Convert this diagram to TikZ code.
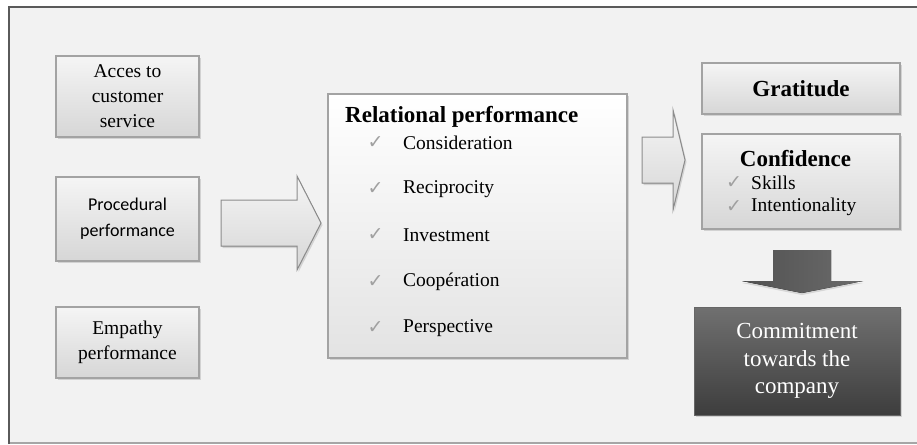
\documentclass[tikz,border=0pt]{standalone}
\usepackage{fontspec}
\setmainfont{Liberation Serif}
\newfontfamily\calfont{Carlito}
\newfontfamily\symfont{DejaVu Sans}
\usetikzlibrary{shadows}
\definecolor{panelbg}{HTML}{F2F2F2}
\definecolor{framedark}{HTML}{5A5A5A}
\definecolor{framelight}{HTML}{A6A6A6}
\definecolor{boxedge}{HTML}{A3A3A3}
\definecolor{checkgray}{HTML}{A0A0A0}
\tikzset{
  softshadow/.style={drop shadow={shadow xshift=1.5pt, shadow yshift=-2pt, opacity=.25, fill=black!55}},
  lightbox/.style={rectangle, draw=boxedge, line width=1.1pt, top color=white!96!black, bottom color=white!84!black,
    inner sep=0pt, align=center, softshadow},
  relbox/.style={rectangle, draw=boxedge, line width=2.8pt, top color=white, bottom color=white!89!black,
    inner sep=0pt, softshadow},
  darkbox/.style={rectangle, draw=black!60, line width=.8pt, top color=black!56, bottom color=black!76,
    inner sep=0pt, align=center, text=white, softshadow},
  blockarrow/.style={draw=black!45, line width=1pt, line join=miter, top color=white!96!black,
    bottom color=white!84!black, softshadow},
  darkarrow/.style={left color=black!68, right color=black!58, draw=none,
    drop shadow={shadow xshift=0pt, shadow yshift=-2pt, opacity=.2, fill=black!60}},
  serif19/.style={font=\fontsize{19.5}{25}\selectfont},
  sans18/.style={font=\calfont\fontsize{18}{26}\selectfont},
  boldhead/.style={font=\bfseries\fontsize{23}{27}\selectfont},
  itemtext/.style={font=\fontsize{19.5}{24}\selectfont, anchor=west, inner sep=0pt},
  tick/.style={font=\symfont\fontsize{19}{21}\selectfont, text=checkgray, inner sep=0pt},
}
\begin{document}
\begin{tikzpicture}[x=1pt, y=-1pt]
  \useasboundingbox (0,0) rectangle (917,444);
  \fill[white] (0,0) rectangle (917,444);
  % panel with its frame
  \fill[panelbg] (9,7) rectangle (917,443);
  \draw[framelight, line width=1.5pt] (9,443) -- (917,443);
  \draw[framedark, line width=2.2pt] (9,444) -- (9,7) -- (917,7);

  % left column
  \node[lightbox, serif19, minimum width=143pt, minimum height=81pt] (acces) at (127.5,96.5)
    {Acces to\\customer\\service};
  \node[lightbox, sans18, minimum width=143pt, minimum height=84pt] (proc) at (127.5,219)
    {Procedural\\performance};
  \node[lightbox, serif19, minimum width=143pt, minimum height=71pt] (emp) at (127.5,342.5)
    {Empathy\\performance};

  % arrow into the relational block
  \filldraw[blockarrow] (221,200) -- (297,200) -- (297,176) -- (321,223) -- (297,270)
    -- (297,246) -- (221,246) -- cycle;

  % relational performance block
  \node[relbox, minimum width=299pt, minimum height=264pt] (rel) at (477.5,226) {};
  \node[boldhead, anchor=west, inner sep=0pt] (reltitle) at (345,117) {Relational performance};
  \foreach \name/\txt/\yy in {c1/Consideration/143, c2/Reciprocity/189, c3/Investment/235,
      c4/Coopération/282, c5/Perspective/328} {
    \node[tick] (\name tick) at (375.5,\yy) {✓};
    \node[itemtext] (\name) at (403,\yy) {\txt};
  }

  % arrow towards the outcomes
  \filldraw[blockarrow] (642,137) -- (673,137) -- (673,110) -- (685,160) -- (673,210)
    -- (673,183) -- (642,183) -- cycle;

  % right column
  \node[lightbox, boldhead, minimum width=198pt, minimum height=51pt] (grat) at (801,88.5) {Gratitude};
  \node[lightbox, minimum width=198pt, minimum height=95pt] (conf) at (801,181.5) {};
  \node[boldhead, inner sep=0pt] (conftitle) at (795.5,159) {Confidence};
  \node[tick] (s1tick) at (734,183) {✓};
  \node[itemtext] (s1) at (751,183) {Skills};
  \node[tick] (s2tick) at (734,207) {✓};
  \node[itemtext] (s2) at (751,207) {Intentionality};

  % downward arrow
  \fill[darkarrow] (773,250) -- (831,250) -- (831,281) -- (863,281) -- (802,293) -- (742,281)
    -- (773,281) -- cycle;

  \node[darkbox, font=\fontsize{23}{27.5}\selectfont, minimum width=206pt, minimum height=108pt]
    (commit) at (797,361) {Commitment\\towards the\\company};
\end{tikzpicture}
\end{document}
